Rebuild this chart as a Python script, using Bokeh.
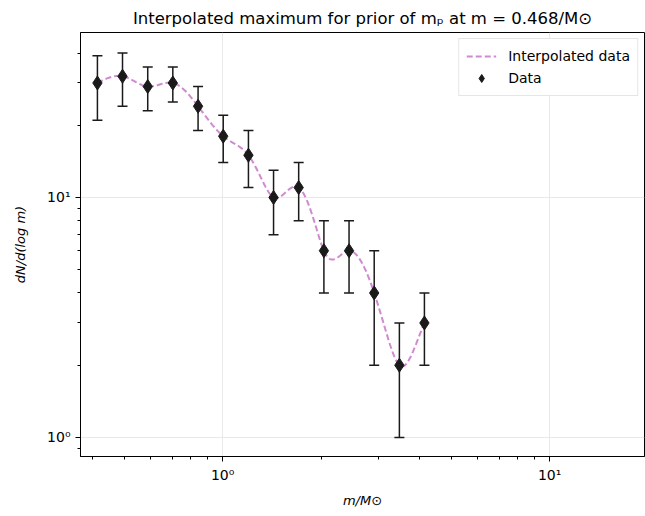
import numpy as np
from bokeh.plotting import figure
from bokeh.models import (FixedTicker, Range1d, Legend, LegendItem,
                          ColumnDataSource, Whisker, TeeHead)
from bokeh.embed import file_html
from bokeh.resources import INLINE

# ---- data ----
mass = [0.414, 0.494, 0.590, 0.704, 0.841, 1.004, 1.199,
        1.431, 1.708, 2.040, 2.435, 2.907, 3.471, 4.14]
counts = [30, 32, 29, 30, 24, 18, 15, 10, 11, 6, 6, 4, 2, 3]
errors = [9, 8, 6, 5, 5, 4, 4, 3, 3, 2, 2, 2, 1, 1]

title_text = "Interpolated maximum for prior of mₚ at m = 0.468/M⊙"
x_label = "m/M⊙"
y_label = "dN/d(log m)"
x_major = [1, 10]
x_major_labels = {1: "10⁰", 10: "10¹"}
y_major = [1, 10]
y_major_labels = {1: "10⁰", 10: "10¹"}


def natural_spline(xk, yk, xq):
    xk = np.asarray(xk, float)
    yk = np.asarray(yk, float)
    n = len(xk)
    h = np.diff(xk)
    A = np.zeros((n, n))
    r = np.zeros(n)
    A[0, 0] = 1.0
    A[-1, -1] = 1.0
    for i in range(1, n - 1):
        A[i, i - 1] = h[i - 1]
        A[i, i] = 2 * (h[i - 1] + h[i])
        A[i, i + 1] = h[i]
        r[i] = 6 * ((yk[i + 1] - yk[i]) / h[i] - (yk[i] - yk[i - 1]) / h[i - 1])
    M = np.linalg.solve(A, r)
    idx = np.clip(np.searchsorted(xk, xq) - 1, 0, n - 2)
    x0, x1 = xk[idx], xk[idx + 1]
    hh = x1 - x0
    return (M[idx] * (x1 - xq) ** 3 / (6 * hh) + M[idx + 1] * (xq - x0) ** 3 / (6 * hh)
            + (yk[idx] / hh - M[idx] * hh / 6) * (x1 - xq)
            + (yk[idx + 1] / hh - M[idx + 1] * hh / 6) * (xq - x0))


lx = np.log10(mass)
lq = np.linspace(lx[0], lx[-1], 400)
interp_y = natural_spline(lx, counts, lq)
interp_x = 10 ** lq

src = ColumnDataSource(dict(
    x=mass, y=counts,
    upper=[c + e for c, e in zip(counts, errors)],
    lower=[c - e for c, e in zip(counts, errors)],
))

p = figure(width=645, height=516, x_axis_type="log", y_axis_type="log",
           x_range=Range1d(0.3675, 19.5), y_range=Range1d(0.833, 48.7),
           output_backend="svg", toolbar_location=None,
           min_border_left=80, min_border_right=1, min_border_top=32,
           min_border_bottom=60)

p.title.text = title_text
p.title.align = "center"
p.title.text_font = "DejaVu Sans"
p.title.text_font_size = "16.5px"
p.title.text_font_style = "normal"
p.title.text_color = "black"

p.outline_line_color = "black"
p.outline_line_width = 1

for ax in (p.xaxis, p.yaxis):
    ax.major_label_text_font = "DejaVu Sans"
    ax.major_label_text_font_size = "14px"
    ax.major_label_text_color = "black"
    ax.axis_label_text_font = "DejaVu Sans"
    ax.axis_label_text_font_size = "13px"
    ax.axis_label_text_font_style = "italic"
    ax.axis_label_text_color = "black"
    ax.major_tick_in = 0
    ax.major_tick_out = 5
    ax.minor_tick_in = 0
    ax.minor_tick_out = 3
    ax.axis_line_color = "black"
    ax.major_tick_line_color = "black"
    ax.minor_tick_line_color = "black"

p.yaxis.axis_label_standoff = 16
p.xaxis.axis_label_standoff = 7

x_minor = [v * d for d in (0.1, 1, 10) for v in range(2, 10)]
y_minor = [v * d for d in (0.1, 1, 10) for v in range(2, 10)]
p.xaxis.ticker = FixedTicker(ticks=x_major, minor_ticks=x_minor)
p.yaxis.ticker = FixedTicker(ticks=y_major, minor_ticks=y_minor)
p.xaxis.major_label_overrides = x_major_labels
p.yaxis.major_label_overrides = y_major_labels
p.xaxis.axis_label = x_label
p.yaxis.axis_label = y_label

p.xgrid.ticker = FixedTicker(ticks=x_major)
p.ygrid.ticker = FixedTicker(ticks=y_major)
p.grid.grid_line_color = "#e3e3e3"
p.grid.grid_line_width = 0.8

line = p.line(interp_x, interp_y, line_color="#d08ad0", line_width=2,
              line_dash="6 3")

wh = Whisker(source=src, base="x", upper="upper", lower="lower",
             dimension="height", line_color="#1a1a1a", line_width=1.5,
             upper_head=TeeHead(size=10, line_color="#1a1a1a", line_width=1.5),
             lower_head=TeeHead(size=10, line_color="#1a1a1a", line_width=1.5))
p.add_layout(wh)

pts = p.scatter("x", "y", source=src, marker="diamond", size=14,
                color="#1a1a1a")

legend = Legend(items=[LegendItem(label="Interpolated data", renderers=[line]),
                       LegendItem(label="Data", renderers=[pts])],
                location="top_right")
legend.label_text_font = "DejaVu Sans"
legend.label_text_font_size = "14px"
legend.label_text_color = "black"
legend.border_line_color = "#cccccc"
legend.border_line_width = 1
legend.glyph_width = 30
legend.glyph_height = 20
legend.spacing = 2
legend.padding = 7
legend.margin = 6
legend.label_standoff = 12
p.add_layout(legend)

open("out.html", "w").write(file_html(p, INLINE))
